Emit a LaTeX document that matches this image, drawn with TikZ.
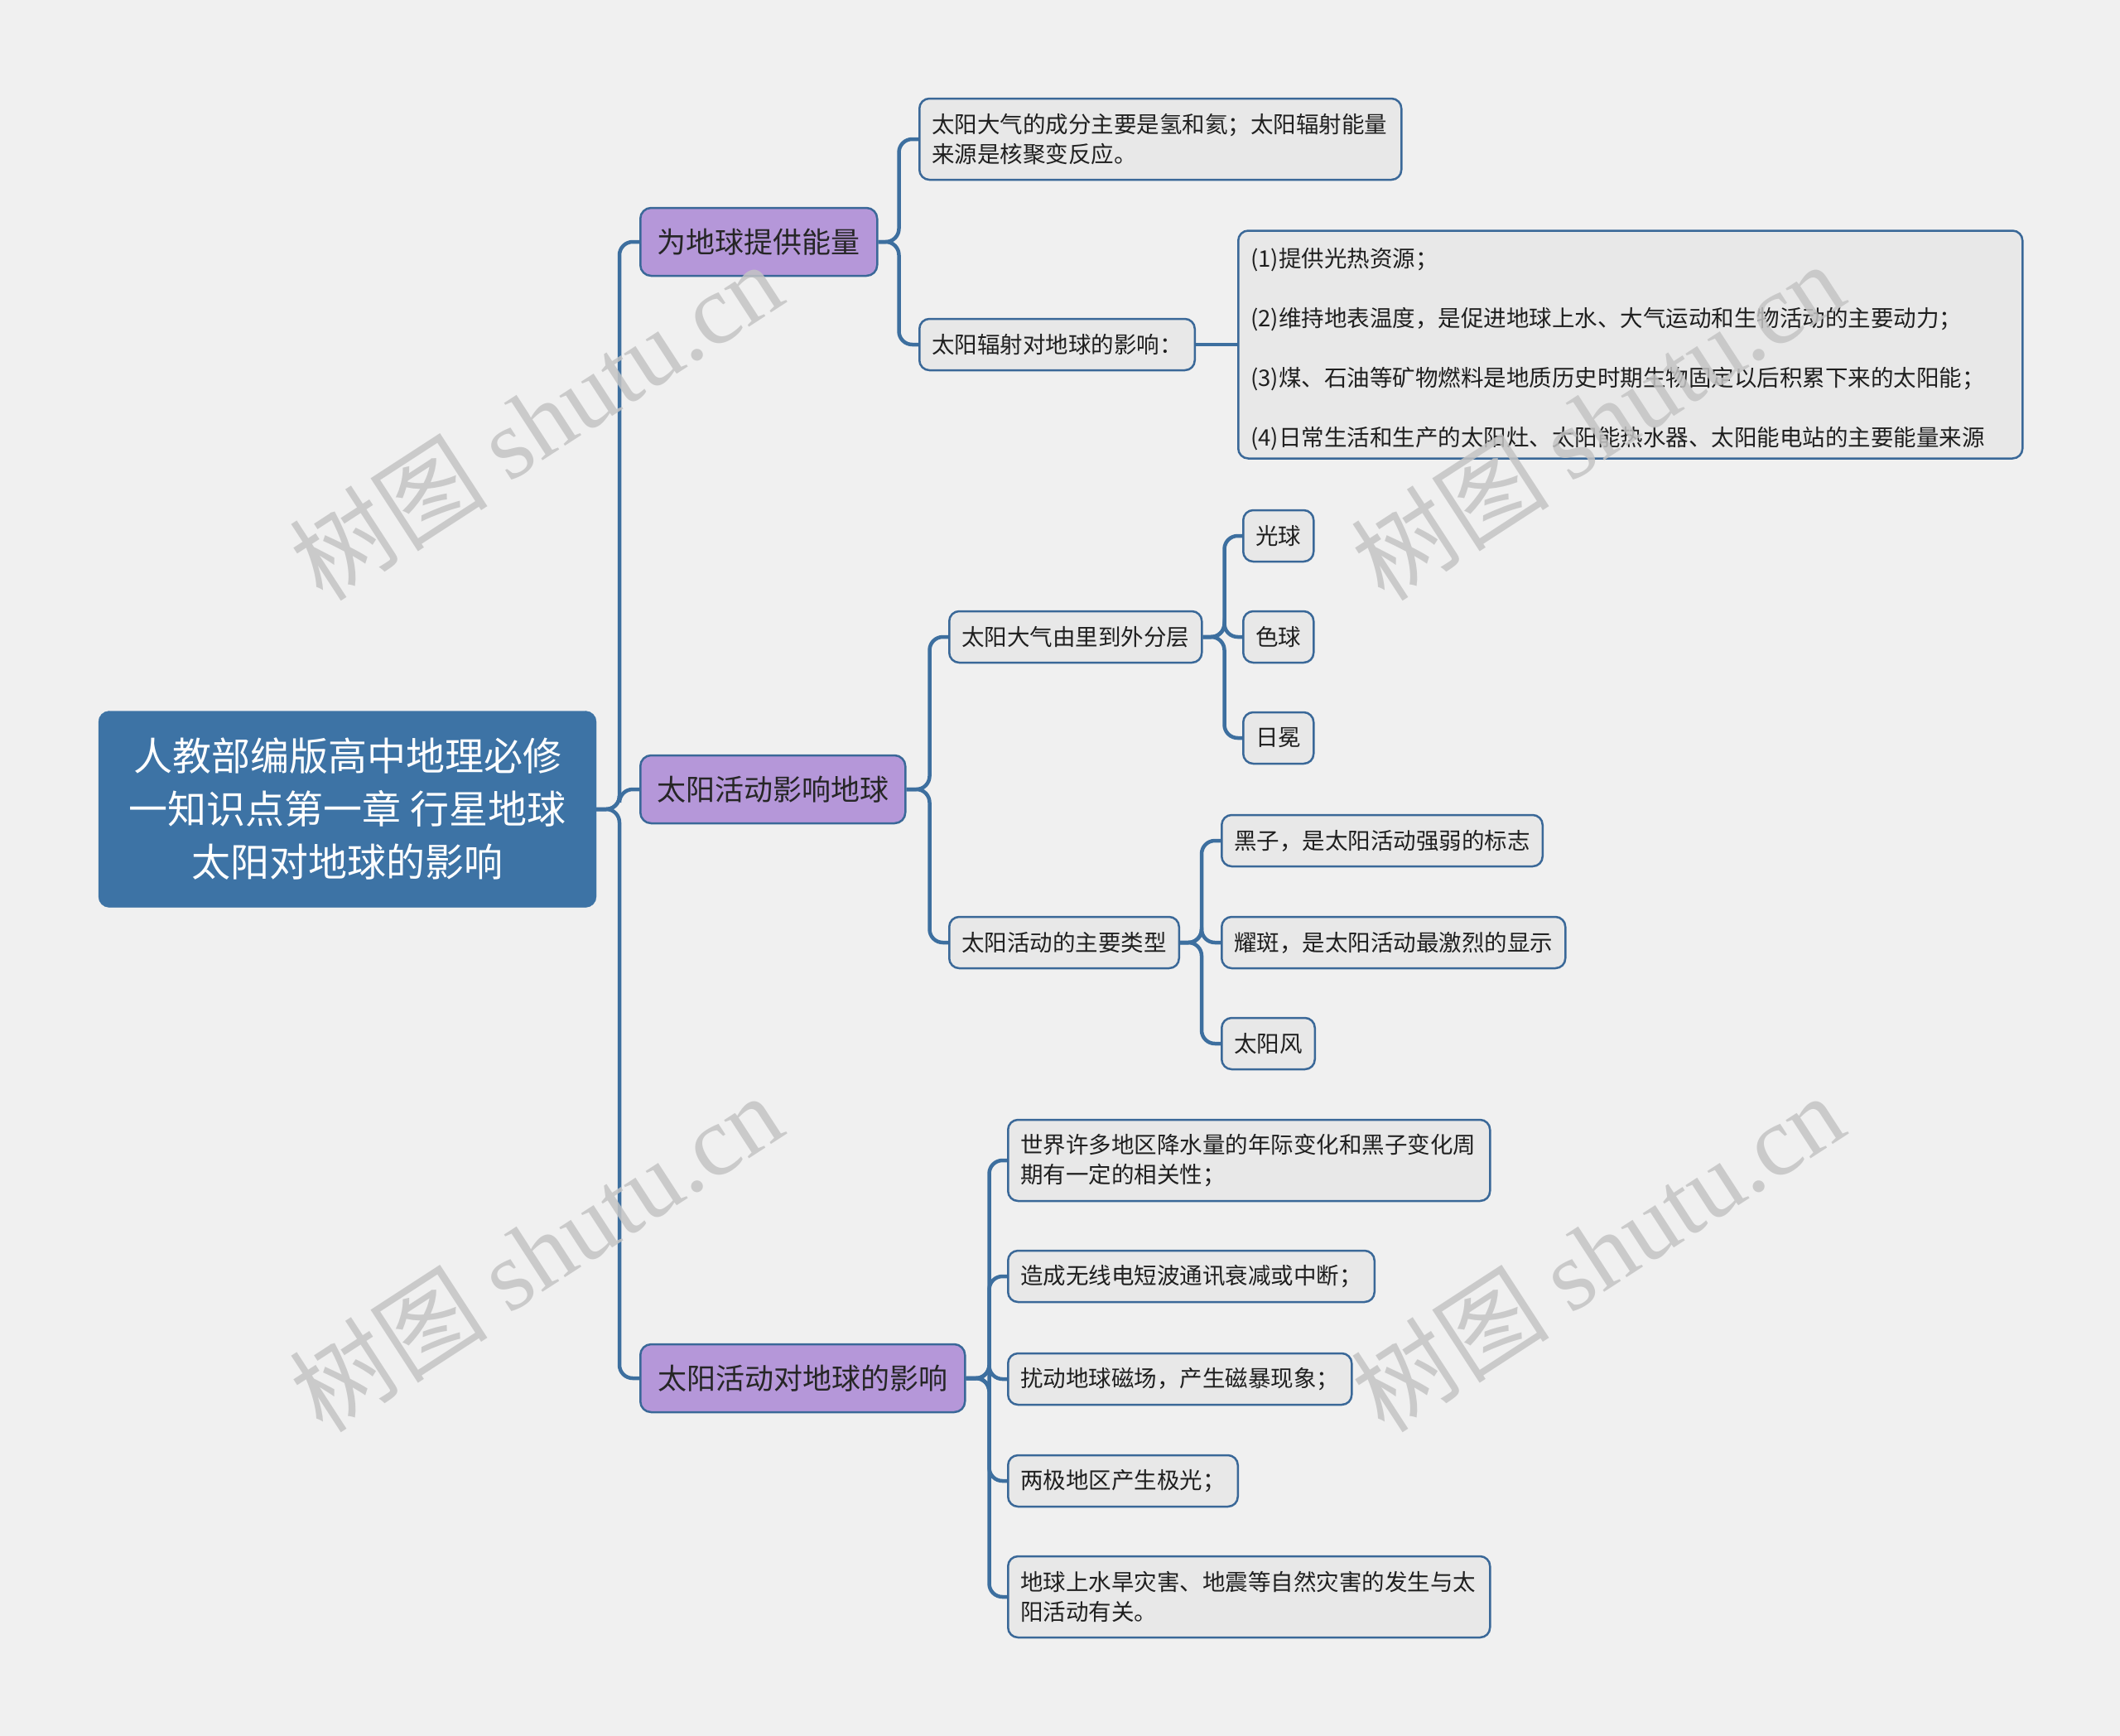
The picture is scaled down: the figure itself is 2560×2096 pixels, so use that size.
\documentclass[tikz,border=0pt]{standalone}
\usepackage{fontspec}
\setmainfont{Noto Sans CJK SC}
\newfontfamily\wmserif{Liberation Serif}
\definecolor{bg}{HTML}{F0F0F0}
\definecolor{rootblue}{HTML}{3D73A5}
\definecolor{purp}{HTML}{B597D9}
\definecolor{bordc}{HTML}{3A6898}
\definecolor{linec}{HTML}{3D6F9F}
\definecolor{boxfill}{HTML}{E8E8E8}
\definecolor{wm}{HTML}{C4C4C4}
\tikzset{
  rootbox/.style={rounded corners=13pt, fill=rootblue, draw=rootblue, text=white,
    font=\fontsize{47}{64}\selectfont, align=center, inner sep=0pt,
    minimum width=601pt, minimum height=237pt},
  lvone/.style={rounded corners=13pt, fill=purp, draw=bordc, line width=2.5pt,
    text=black!85, font=\fontsize{35}{42}\selectfont, anchor=west, inner sep=0pt,
    minimum height=82pt},
  leaf/.style={rounded corners=12pt, fill=boxfill, draw=bordc, line width=2.5pt,
    text=black!88, font=\fontsize{27.5}{36}\selectfont, anchor=west,
    inner xsep=15pt, inner ysep=0pt, minimum height=62pt},
  leaftwo/.style={leaf, text width=552pt, align=left, minimum height=98pt},
  conn/.style={draw=linec, line width=4.5pt, rounded corners=16pt},
  wmark/.style={text=wm, rotate=33, inner sep=0pt}
}
\begin{document}
\begin{tikzpicture}[x=1pt,y=-1pt]
\useasboundingbox (0,0) rectangle (2560,2096);
\fill[bg] (0,0) rectangle (2560,2096);

% nodes
\node[rootbox] (root) at (419.5,977) {人教部编版高中地理必修\\一知识点第一章 行星地球\\太阳对地球的影响};

\node[lvone, minimum width=286pt] (la) at (772,292) {为地球提供能量};
\node[lvone, minimum width=320pt] (lb) at (772,953) {太阳活动影响地球};
\node[lvone, minimum width=392pt] (lc) at (772,1664) {太阳活动对地球的影响};

\node[leaftwo] (a1) at (1109,168) {太阳大气的成分主要是氢和氦；太阳辐射能量\\来源是核聚变反应。};
\node[leaf] (a2) at (1109,416) {太阳辐射对地球的影响：};
\node[leaf, text width=917pt, align=left, minimum height=275pt] (a2b) at (1494,416)
  {\rule{0pt}{34pt}(1)提供光热资源；\\[36pt](2)维持地表温度，是促进地球上水、大气运动和生物活动的主要动力；\\[36pt](3)煤、石油等矿物燃料是地质历史时期生物固定以后积累下来的太阳能；\\[36pt](4)日常生活和生产的太阳灶、太阳能热水器、太阳能电站的主要能量来源};

\node[leaf] (b1) at (1145,769) {太阳大气由里到外分层};
\node[leaf] (g1) at (1500,647) {光球};
\node[leaf] (g2) at (1500,769) {色球};
\node[leaf] (g3) at (1500,891) {日冕};
\node[leaf] (b2) at (1145,1138) {太阳活动的主要类型};
\node[leaf] (h1) at (1474,1015) {黑子，是太阳活动强弱的标志};
\node[leaf] (h2) at (1474,1138) {耀斑，是太阳活动最激烈的显示};
\node[leaf] (h3) at (1474,1260) {太阳风};

\node[leaftwo] (c1) at (1216,1401) {世界许多地区降水量的年际变化和黑子变化周\\期有一定的相关性；};
\node[leaf] (c2) at (1216,1541) {造成无线电短波通讯衰减或中断；};
\node[leaf] (c3) at (1216,1665) {扰动地球磁场，产生磁暴现象；};
\node[leaf] (c4) at (1216,1788) {两极地区产生极光；};
\node[leaftwo] (c5) at (1216,1928) {地球上水旱灾害、地震等自然灾害的发生与太\\阳活动有关。};

% connectors
\coordinate (tr) at (748,977);
\foreach \c in {la,lb,lc} { \draw[conn] (root.east) -- (tr) |- (\c.west); }
\foreach \c in {a1,a2} { \draw[conn] (la.east) -- ++(25,0) |- (\c.west); }
\draw[conn] (a2.east) -- (a2b.west);
\foreach \c in {b1,b2} { \draw[conn] (lb.east) -- ++(28,0) |- (\c.west); }
\foreach \c in {g1,g2,g3} { \draw[conn] (b1.east) -- ++(26,0) |- (\c.west); }
\foreach \c in {h1,h2,h3} { \draw[conn] (b2.east) -- ++(26,0) |- (\c.west); }
\foreach \c in {c1,c2,c3,c4,c5} { \draw[conn] (lc.east) -- ++(28,0) |- (\c.west); }

% watermarks
\foreach \p in {(647,508),(1929,508),(647,1512),(1929,1512)} {
  \node[wmark, opacity=0.85] at \p {\fontsize{120}{130}\selectfont 树图 \wmserif shutu.cn};
}
\end{tikzpicture}
\end{document}
